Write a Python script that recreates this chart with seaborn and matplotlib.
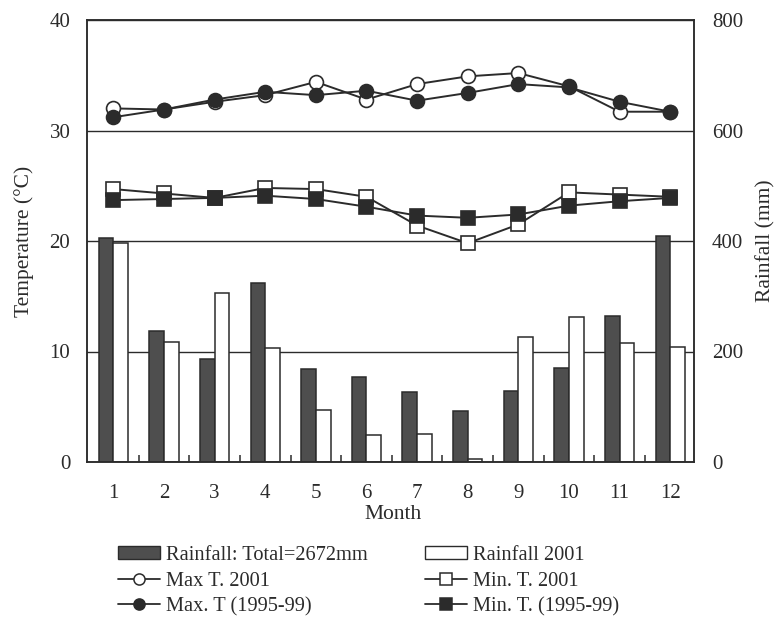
import matplotlib
matplotlib.use("Agg")
import matplotlib.pyplot as plt
from matplotlib.lines import Line2D
from matplotlib.patches import Patch
import numpy as np
import pandas as pd
import seaborn as sns

# Monthly climate record
months = [str(m) for m in range(1, 13)]
rain_mean = [406, 237, 187, 324, 168, 154, 126, 93, 129, 171, 264, 409]      # mm, 1995-99 mean
rain_2001 = [397, 217, 305, 206, 94, 48, 50, 6, 226, 262, 215, 208]          # mm, 2001
max_t_2001 = [32.0, 31.9, 32.6, 33.2, 34.4, 32.8, 34.2, 34.9, 35.2, 34.0, 31.7, 31.7]
max_t_mean = [31.2, 31.9, 32.8, 33.5, 33.2, 33.6, 32.7, 33.4, 34.2, 33.9, 32.6, 31.7]
min_t_2001 = [24.7, 24.3, 23.9, 24.8, 24.7, 24.0, 21.4, 19.8, 21.5, 24.4, 24.2, 24.0]
min_t_mean = [23.7, 23.8, 23.9, 24.1, 23.8, 23.1, 22.3, 22.1, 22.4, 23.2, 23.6, 23.9]
temp_ticks = [0, 10, 20, 30, 40]
rain_ticks = [0, 200, 400, 600, 800]

sns.set_style("white")
plt.rcParams["font.family"] = ["Liberation Serif", "DejaVu Serif"]
plt.rcParams["font.size"] = 15

INK = "#2b2b2b"
BAR_DARK = "#4e4e4e"
TICK_FS = 15
LABEL_FS = 15.5
LEGEND_FS = 14.7

fig = plt.figure(figsize=(7.78, 6.25), dpi=100)
ax = fig.add_axes([87 / 778, 1 - 462 / 625, (694 - 87) / 778, (462 - 20) / 625])
ax2 = ax.twinx()

# Rainfall bars on the right-hand axis
rain = pd.DataFrame({
    "month": months * 2,
    "rain": rain_mean + rain_2001,
    "series": ["mean"] * 12 + ["2001"] * 12,
})
sns.barplot(data=rain, x="month", y="rain", hue="series", order=months,
            hue_order=["mean", "2001"],
            palette={"mean": BAR_DARK, "2001": "white"}, saturation=1,
            width=0.58, edgecolor=INK, linewidth=1.1, errorbar=None,
            legend=False, ax=ax2)
ax2.set_ylim(0, 800)
ax2.set_yticks(rain_ticks)
ax2.set_axisbelow(True)
ax2.grid(axis="y", color=INK, linewidth=1.0)
ax2.grid(axis="x", visible=False)
ax2.tick_params(axis="y", length=0, pad=13, labelsize=TICK_FS, colors=INK)
ax2.set_ylabel("Rainfall (mm)", fontsize=LABEL_FS, color=INK)
ax2.yaxis.set_label_coords(1.103, 0.5)

# Temperature lines on the left-hand axis, drawn above the bars
pos = np.arange(len(months))
series = [
    (max_t_2001, "o", "white"),
    (max_t_mean, "o", INK),
    (min_t_2001, "s", "white"),
    (min_t_mean, "s", INK),
]
for vals, mk, fc in series:
    sns.lineplot(x=pos, y=vals, ax=ax, color=INK, linewidth=1.4, marker=mk,
                 markersize=10, markerfacecolor=fc, markeredgecolor=INK,
                 markeredgewidth=1.2, legend=False)

ax.set_zorder(ax2.get_zorder() + 1)
ax.patch.set_visible(False)
ax.set_ylim(0, 40)
ax.set_yticks(temp_ticks)
ax.set_xlim(-0.52, 11.47)
ax.set_xticks(pos)
ax.set_xticklabels(months)
ax.set_xticks(pos[:-1] + 0.5, minor=True)
ax.tick_params(axis="x", which="major", length=0, pad=16, labelsize=TICK_FS, colors=INK)
ax.tick_params(axis="x", which="minor", bottom=True, direction="in",
               length=5, width=1.1, color=INK)
ax.tick_params(axis="y", length=0, pad=12, labelsize=TICK_FS, colors=INK)
ax.set_xlabel("Month", fontsize=LABEL_FS, color=INK)
ax.xaxis.set_label_coords(0.505, -0.097)
ax.set_ylabel("Temperature (°C)", fontsize=LABEL_FS, color=INK)
ax.yaxis.set_label_coords(-0.088, 0.5)

for a in (ax, ax2):
    for sp in a.spines.values():
        sp.set_visible(True)
        sp.set_color(INK)
        sp.set_linewidth(1.1)

# Legend beneath the chart
line_kw = dict(color=INK, linewidth=1.3, markersize=8, markeredgecolor=INK,
               markeredgewidth=1.1)
handles = [
    Patch(facecolor=BAR_DARK, edgecolor=INK, linewidth=1.0),
    Line2D([], [], marker="o", markerfacecolor="white", **line_kw),
    Line2D([], [], marker="o", markerfacecolor=INK, **line_kw),
    Patch(facecolor="white", edgecolor=INK, linewidth=1.0),
    Line2D([], [], marker="s", markerfacecolor="white", **line_kw),
    Line2D([], [], marker="s", markerfacecolor=INK, **line_kw),
]
labels = [
    "Rainfall: Total=2672mm",
    "Max T. 2001",
    "Max. T (1995-99)",
    "Rainfall 2001",
    "Min. T. 2001",
    "Min. T. (1995-99)",
]
fig.legend(handles, labels, ncol=2, loc="upper left",
           bbox_to_anchor=(118 / 778, 1 - 546 / 625), frameon=False,
           borderpad=0, borderaxespad=0, handlelength=2.05, handleheight=0.6,
           handletextpad=0.3, columnspacing=2.8, labelspacing=0.32,
           fontsize=LEGEND_FS, labelcolor=INK)

fig.savefig("out.png", dpi=100, facecolor="white")
